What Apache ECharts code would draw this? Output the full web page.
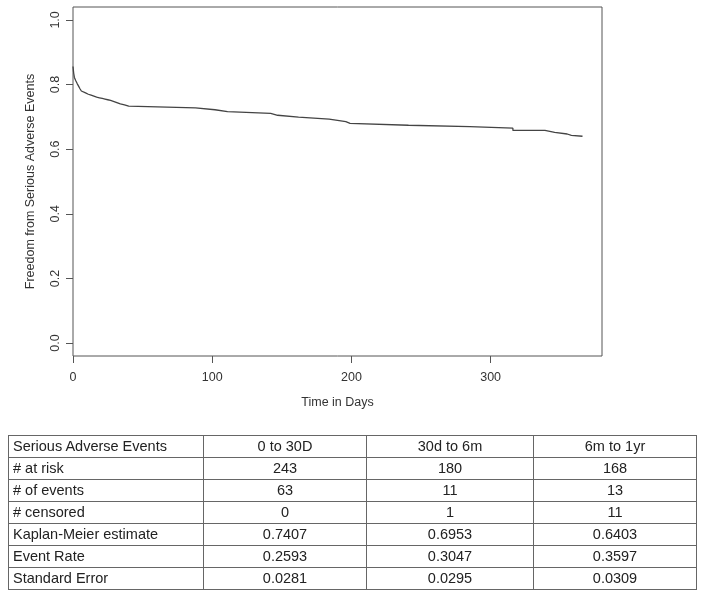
<!DOCTYPE html>
<html>
<head>
<meta charset="utf-8">
<script src="https://cdn.jsdelivr.net/npm/echarts@6/dist/echarts.min.js"></script>
<style>
  html, body { margin: 0; padding: 0; background: #fff; }
  #wrap { position: relative; width: 704px; height: 595px; overflow: hidden; }
  #chart { position: absolute; left: 0; top: 0; width: 704px; height: 595px; }
  #tbl { position: absolute; left: 8px; top: 435px; border-collapse: collapse;
         font-family: "Liberation Sans", Arial, sans-serif; font-size: 14.5px; color: #222; }
  #tbl td { border: 1px solid #666; height: 21px; padding: 0; line-height: 21px; text-align: center; white-space: nowrap; }
  #tbl td.first { text-align: left; padding-left: 4px; }
</style>
</head>
<body>
<div id="wrap">
  <div id="chart"></div>
  <table id="tbl"></table>
</div>
<script>
// Kaplan-Meier step curve (time in days, survival estimate)
const times = [0, 0.5, 1, 2, 3, 4, 5, 6, 7, 9, 11, 13, 15, 17, 19, 21, 23, 25, 27, 29, 31, 34, 37, 40,
               88, 102, 111, 142, 147, 162, 184, 190, 196, 199, 241, 285, 316, 339, 346, 355, 358, 366];
const survival = [0.856, 0.835, 0.822, 0.812, 0.803, 0.795, 0.787, 0.780, 0.774, 0.770, 0.767, 0.764,
                  0.761, 0.759, 0.757, 0.755, 0.753, 0.751, 0.748, 0.745, 0.740, 0.737, 0.733, 0.728,
                  0.722, 0.716, 0.711, 0.705, 0.699, 0.693, 0.689, 0.685, 0.680, 0.674, 0.670, 0.665,
                  0.658, 0.652, 0.647, 0.643, 0.640, 0.640];
const xTicks = [0, 100, 200, 300];
const yTicks = [0, 0.2, 0.4, 0.6, 0.8, 1.0];

// Summary table
const tableHeader = ["Serious Adverse Events", "0 to 30D", "30d to 6m", "6m to 1yr"];
const rowLabels = ["# at risk", "# of events", "# censored", "Kaplan-Meier estimate", "Event Rate", "Standard Error"];
const col0to30 = ["243", "63", "0", "0.7407", "0.2593", "0.0281"];
const col30to6m = ["180", "11", "1", "0.6953", "0.3047", "0.0295"];
const col6mto1y = ["168", "13", "11", "0.6403", "0.3597", "0.0309"];

const colWidths = [195, 163, 167, 163];
const tbl = document.getElementById('tbl');
function addRow(cells) {
  const tr = document.createElement('tr');
  cells.forEach((c, i) => {
    const td = document.createElement('td');
    td.textContent = c;
    td.style.width = (colWidths[i] - (i === 0 ? 5 : 1)) + 'px';
    if (i === 0) td.className = 'first';
    tr.appendChild(td);
  });
  tbl.appendChild(tr);
}
addRow(tableHeader);
rowLabels.forEach((r, i) => addRow([r, col0to30[i], col30to6m[i], col6mto1y[i]]));

const font = '"Liberation Sans", Arial, sans-serif';
const chart = echarts.init(document.getElementById('chart'), null, { renderer: 'canvas' });
chart.setOption({
  animation: false,
  backgroundColor: '#fff',
  grid: { left: 73, top: 7, width: 529, height: 349, show: true, borderColor: '#555', borderWidth: 1, backgroundColor: 'transparent' },
  xAxis: {
    type: 'value', min: 0, max: 380,
    name: 'Time in Days', nameLocation: 'middle', nameGap: 40,
    nameTextStyle: { fontFamily: font, fontSize: 12.5, color: '#333' },
    axisLine: { show: false, onZero: false },
    splitLine: { show: false },
    axisTick: { show: true, inside: false, length: 7, lineStyle: { color: '#555' }, customValues: xTicks },
    axisLabel: { fontFamily: font, fontSize: 12.5, color: '#333', margin: 15, customValues: xTicks }
  },
  yAxis: {
    type: 'value', min: -0.04, max: 1.04,
    name: 'Freedom from Serious Adverse Events', nameLocation: 'middle', nameGap: 36, nameRotate: 90,
    nameTextStyle: { fontFamily: font, fontSize: 12.5, color: '#333' },
    axisLine: { show: false, onZero: false },
    splitLine: { show: false },
    axisTick: { show: true, inside: false, length: 7, lineStyle: { color: '#555' }, customValues: yTicks },
    axisLabel: { fontFamily: font, fontSize: 12.5, color: '#333', margin: 11, rotate: 90,
                 customValues: yTicks, formatter: v => v.toFixed(1) }
  },
  series: [{
    type: 'line', step: 'end', symbol: 'none',
    lineStyle: { color: '#444', width: 1.3 },
    data: times.map((t, i) => [t, survival[i]])
  }]
});
</script>
</body>
</html>
